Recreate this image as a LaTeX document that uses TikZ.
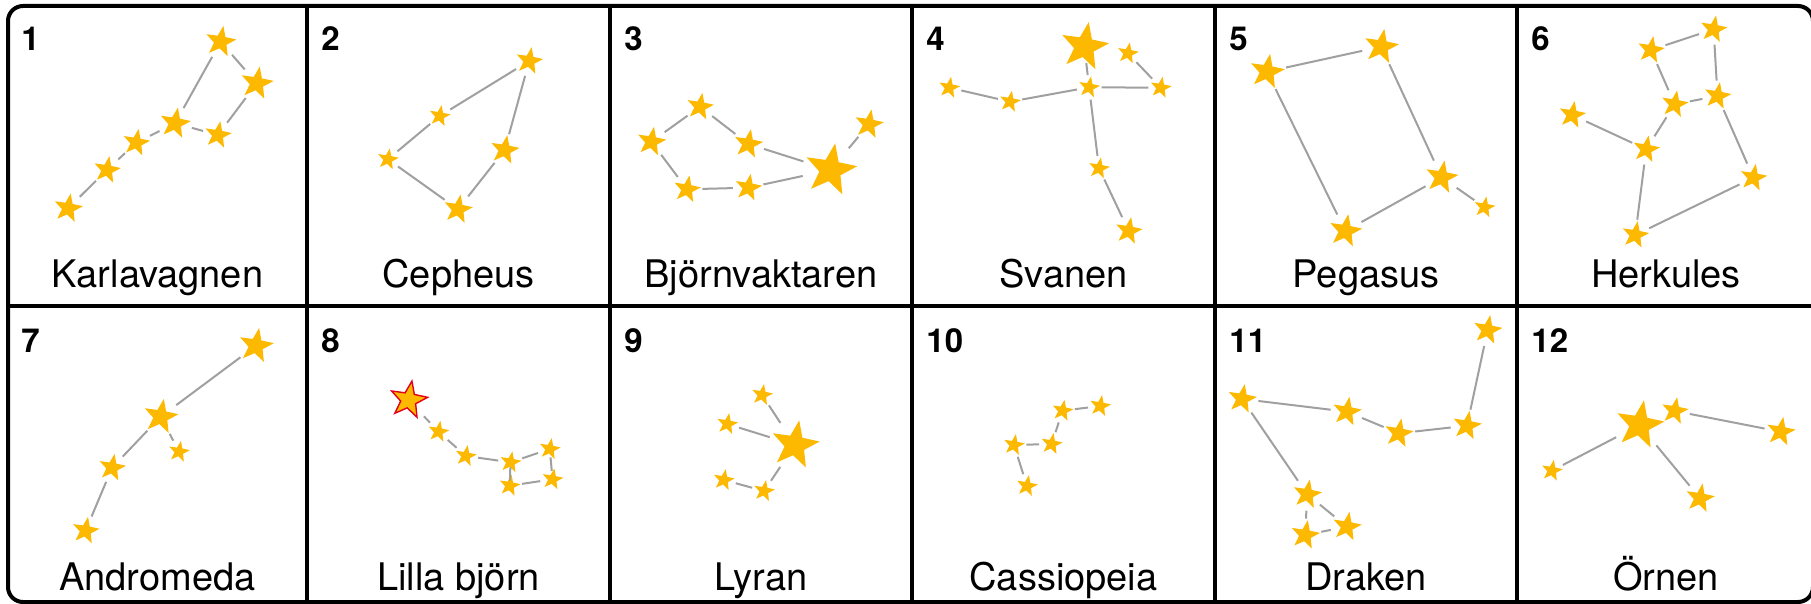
\documentclass[tikz,border=0pt]{standalone}
\usepackage{fontspec}
\setmainfont{TeX Gyre Heros}
\usetikzlibrary{shapes.geometric}
\definecolor{gold}{RGB}{252,185,0}
\definecolor{conn}{RGB}{160,160,160}
\definecolor{redline}{RGB}{226,0,26}
\begin{document}
\begin{tikzpicture}[x=0.5pt,y=-0.5pt,
 starbody/.style={shape=star, star points=5, star point ratio=2.4, inner sep=0pt, fill=gold, shape border rotate=-10},
 st/.style={circle, inner sep=0pt, minimum size={#1pt+1pt}, path picture={\node[starbody, minimum size=#1pt] at (path picture bounding box.center) {};}},
 redst/.style={circle, inner sep=0pt, minimum size={#1pt+2pt}, path picture={\node[starbody, draw=redline, line width=0.7pt, minimum size={#1pt-0.8pt}] at (path picture bounding box.center) {};}},
 link/.style={draw=conn, line width=1pt},
 num/.style={anchor=base west, inner sep=0pt, font=\fontsize{16.5}{18}\selectfont\bfseries},
 lab/.style={anchor=base, inner sep=0pt, font=\fontsize{19}{22}\selectfont},
 gridline/.style={line width=2pt, draw=black}]
\useasboundingbox (0,0) rectangle (1811,604);
\fill[white] (0,0) rectangle (1811,604);
% grid
\draw[gridline, rounded corners=7.5pt] (8,6) rectangle (1813,602);
\draw[gridline] (8,306) -- (1813,306);
\foreach \x in {307,610,912,1215,1517} \draw[gridline] (\x,6) -- (\x,602);
% numbers
\node[num] (n1) at (21,51) {1};
\node[num] (n2) at (321,51) {2};
\node[num] (n3) at (624,51) {3};
\node[num] (n4) at (926,51) {4};
\node[num] (n5) at (1229,51) {5};
\node[num] (n6) at (1531,51) {6};
\node[num] (n7) at (21,353) {7};
\node[num] (n8) at (321,353) {8};
\node[num] (n9) at (624,353) {9};
\node[num] (n10) at (926,353) {10};
\node[num] (n11) at (1229,353) {11};
\node[num] (n12) at (1531,353) {12};
% labels
\node[lab] (t1) at (157.5,288) {Karlavagnen};
\node[lab] (t2) at (458.5,288) {Cepheus};
\node[lab] (t3) at (761,288) {Björnvaktaren};
\node[lab] (t4) at (1063.5,288) {Svanen};
\node[lab] (t5) at (1366,288) {Pegasus};
\node[lab] (t6) at (1666,288) {Herkules};
\node[lab] (t7) at (157.5,590) {Andromeda};
\node[lab] (t8) at (458.5,590) {Lilla björn};
\node[lab] (t9) at (761,590) {Lyran};
\node[lab] (t10) at (1063.5,590) {Cassiopeia};
\node[lab] (t11) at (1366,590) {Draken};
\node[lab] (t12) at (1666,590) {Örnen};
% 1 Karlavagnen
\node[st=16] (k1) at (220.6,41.7) {};
\node[st=17] (k2) at (256.8,83.3) {};
\node[st=16] (k3) at (175.1,123.3) {};
\node[st=14] (k4) at (217.9,135) {};
\node[st=14] (k5) at (136.2,142.7) {};
\node[st=14] (k6) at (107,170) {};
\node[st=15] (k7) at (68.1,208.3) {};
\foreach \a/\b in {k1/k2,k1/k3,k2/k4,k3/k4,k3/k5,k5/k6,k6/k7} \draw[link] (\a) -- (\b);
% 2 Cepheus
\node[st=14] (ce1) at (529.2,61) {};
\node[st=11] (ce2) at (439.7,116) {};
\node[st=11] (ce3) at (387.9,159.3) {};
\node[st=15] (ce4) at (504.7,150) {};
\node[st=15] (ce5) at (458,209.3) {};
\foreach \a/\b in {ce1/ce2,ce2/ce3,ce1/ce4,ce4/ce5,ce3/ce5} \draw[link] (\a) -- (\b);
% 3 Bjornvaktaren
\node[st=14] (b1) at (700,106.7) {};
\node[st=15] (b2) at (651.4,141.7) {};
\node[st=15] (b3) at (748.3,144) {};
\node[st=14] (b4) at (687,189.3) {};
\node[st=14] (b5) at (748.3,187.7) {};
\node[st=27] (b6) at (830.5,170) {};
\node[st=15] (b7) at (868.9,124.3) {};
\foreach \a/\b in {b1/b2,b1/b3,b2/b4,b4/b5,b5/b6,b3/b6,b6/b7} \draw[link] (\a) -- (\b);
% 4 Svanen
\node[st=25] (s1) at (1084.4,46.7) {};
\node[st=11] (s2) at (1127.9,53.3) {};
\node[st=11] (s3) at (949.2,87.7) {};
\node[st=11] (s4) at (1010,101.7) {};
\node[st=11] (s5) at (1089.1,87.3) {};
\node[st=11] (s6) at (1160.7,87.7) {};
\node[st=11] (s7) at (1099,168.3) {};
\node[st=14] (s8) at (1128.7,231) {};
\foreach \a/\b in {s3/s4,s4/s5,s5/s6,s2/s6,s5/s7,s7/s8} \draw[link] (\a) -- (\b);
\draw[link, shorten <=-5pt] (s1) -- (s5);
% 5 Pegasus
\node[st=18] (p1) at (1267,71.7) {};
\node[st=18] (p2) at (1381.2,46.7) {};
\node[st=17] (p3) at (1441.6,177.3) {};
\node[st=11] (p4) at (1484.5,207.3) {};
\node[st=17] (p5) at (1345.4,231) {};
\foreach \a/\b in {p1/p2,p2/p3,p3/p4,p3/p5,p1/p5} \draw[link] (\a) -- (\b);
% 6 Herkules
\node[st=14] (h1) at (1713.6,29.3) {};
\node[st=14] (h2) at (1650.9,50) {};
\node[st=14] (h3) at (1674.7,104.3) {};
\node[st=14] (h4) at (1717.5,96) {};
\node[st=14] (h5) at (1572.2,115) {};
\node[st=14] (h6) at (1646.2,149.3) {};
\node[st=14] (h7) at (1753.4,177.7) {};
\node[st=14] (h8) at (1635.3,235) {};
\foreach \a/\b in {h1/h2,h1/h4,h2/h3,h3/h4,h3/h6,h5/h6,h6/h8,h8/h7,h4/h7} \draw[link] (\a) -- (\b);
% 7 Andromeda
\node[st=18] (a1) at (256,345.7) {};
\node[st=18] (a2) at (160.7,416.7) {};
\node[st=11] (a3) at (179,451.7) {};
\node[st=14] (a4) at (112.1,467.7) {};
\node[st=14] (a5) at (85.6,530.7) {};
\foreach \a/\b in {a1/a2,a2/a3,a2/a4,a4/a5} \draw[link] (\a) -- (\b);
% 8 Lilla bjorn
\node[redst=20] (l1) at (408.6,400) {};
\node[st=11] (l2) at (438.5,431.7) {};
\node[st=11] (l3) at (465.8,456) {};
\node[st=11] (l4) at (510.5,462.3) {};
\node[st=11] (l5) at (549.8,449) {};
\node[st=11] (l6) at (552.5,479.3) {};
\node[st=11] (l7) at (509.7,485.7) {};
\foreach \a/\b in {l1/l2,l2/l3,l3/l4,l4/l5,l6/l7} \draw[link] (\a) -- (\b);
\draw[link, shorten <=-2pt, shorten >=-2pt] (l5) -- (l6);
\draw[link, shorten <=-3pt, shorten >=-3pt] (l7) -- (l4);
% 9 Lyran
\node[st=11] (y1) at (762.1,395) {};
\node[st=11] (y2) at (727.3,424) {};
\node[st=25] (y3) at (794.9,445) {};
\node[st=11] (y4) at (723.8,480) {};
\node[st=11] (y5) at (764.1,491) {};
\foreach \a/\b in {y1/y3,y2/y3,y3/y5,y4/y5} \draw[link] (\a) -- (\b);
% 10 Cassiopeia
\node[st=11] (q1) at (1100.2,406) {};
\node[st=11] (q2) at (1062.6,410.7) {};
\node[st=11] (q3) at (1051.6,444) {};
\node[st=11] (q4) at (1014,445) {};
\node[st=11] (q5) at (1027,486) {};
\foreach \a/\b in {q1/q2,q2/q3,q3/q4,q4/q5} \draw[link] (\a) -- (\b);
% 11 Draken
\node[st=15] (d1) at (1487.6,330) {};
\node[st=15] (d2) at (1242.1,399) {};
\node[st=15] (d3) at (1346.9,411.7) {};
\node[st=15] (d4) at (1398.8,433.3) {};
\node[st=15] (d5) at (1467,425.7) {};
\node[st=15] (d6) at (1307.2,494.3) {};
\node[st=15] (d7) at (1346.9,526.7) {};
\node[st=15] (d8) at (1305.2,535) {};
\foreach \a/\b in {d1/d5,d2/d3,d3/d4,d4/d5,d2/d6,d6/d7,d6/d8,d8/d7} \draw[link] (\a) -- (\b);
% 12 Ornen
\node[st=25] (o1) at (1639.6,425) {};
\node[st=14] (o2) at (1674.7,411) {};
\node[st=15] (o3) at (1780.7,431.7) {};
\node[st=11] (o4) at (1551.9,470.7) {};
\node[st=15] (o5) at (1700,498.3) {};
\foreach \a/\b in {o1/o4,o1/o5,o2/o3} \draw[link] (\a) -- (\b);
\end{tikzpicture}
\end{document}
